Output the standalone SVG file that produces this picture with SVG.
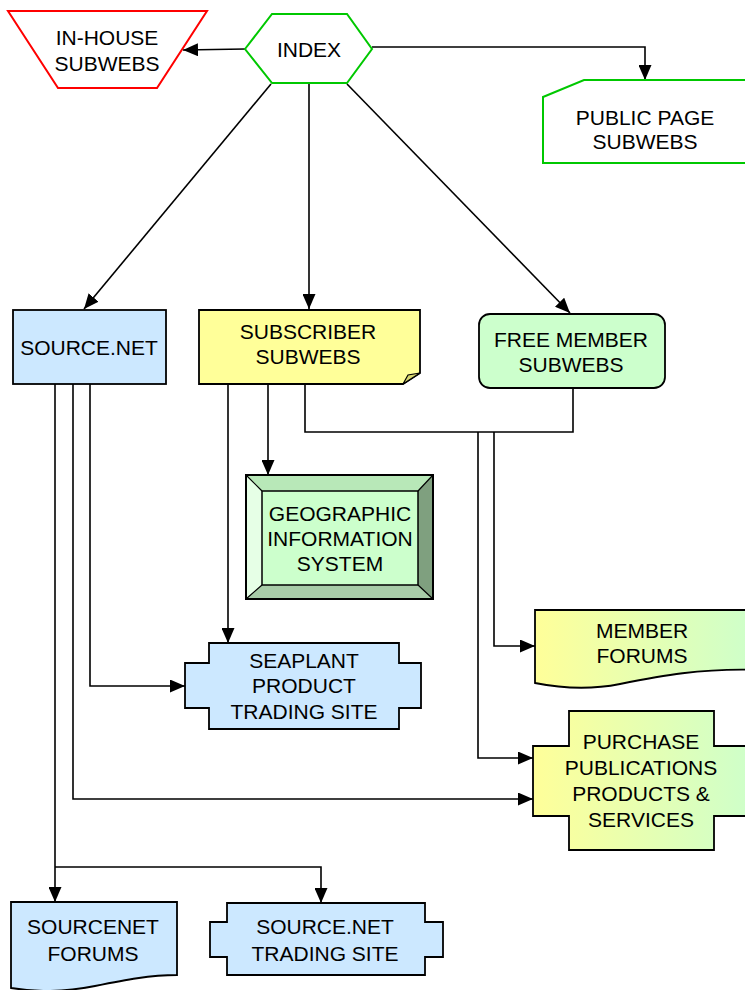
<svg xmlns="http://www.w3.org/2000/svg" width="745" height="990" viewBox="0 0 745 990">
  <defs>
    <marker id="arrow" markerUnits="userSpaceOnUse" markerWidth="15" markerHeight="13" viewBox="0 0 15 13" refX="15" refY="6.5" orient="auto">
      <path d="M0,0 L15,6.5 L0,13 Z" fill="#000"/>
    </marker>
    <linearGradient id="yg" x1="0" y1="0" x2="1" y2="0">
      <stop offset="0" stop-color="#ffff99"/>
      <stop offset="1" stop-color="#ccffcc"/>
    </linearGradient>
  </defs>
  <style>
    text { font-family: "Liberation Sans", Arial, sans-serif; font-size: 21px; fill: #000; text-anchor: middle; }
    .blue { fill: #cce8ff; stroke: #000; stroke-width: 1.8; }
    .yel { fill: #ffff99; stroke: #000; stroke-width: 1.8; }
    .grn { fill: #ccffcc; stroke: #000; stroke-width: 1.8; }
    .grad { fill: url(#yg); stroke: #000; stroke-width: 1.8; }
    .conn { fill: none; stroke: #000; stroke-width: 1.6; }
  </style>

  <g id="connectors">
    <line class="conn" x1="245" y1="49" x2="183" y2="50" marker-end="url(#arrow)"/>
    <polyline class="conn" points="372,47 645,47 645,80" marker-end="url(#arrow)"/>
    <line class="conn" x1="271" y1="84" x2="84" y2="309" marker-end="url(#arrow)"/>
    <line class="conn" x1="309" y1="84" x2="309" y2="309" marker-end="url(#arrow)"/>
    <line class="conn" x1="347" y1="84" x2="570" y2="313" marker-end="url(#arrow)"/>
    <line class="conn" x1="268" y1="384" x2="268" y2="475" marker-end="url(#arrow)"/>
    <line class="conn" x1="228" y1="384" x2="228" y2="643" marker-end="url(#arrow)"/>
    <polyline class="conn" points="305,384 305,432 573,432 573,388"/>
    <polyline class="conn" points="494,432 494,646 535,646" marker-end="url(#arrow)"/>
    <polyline class="conn" points="478,432 478,758 533,758" marker-end="url(#arrow)"/>
    <polyline class="conn" points="90,384 90,686 185,686" marker-end="url(#arrow)"/>
    <polyline class="conn" points="73,384 73,799 533,799" marker-end="url(#arrow)"/>
    <line class="conn" x1="55" y1="384" x2="55" y2="902" marker-end="url(#arrow)"/>
    <polyline class="conn" points="55,867 321,867 321,903" marker-end="url(#arrow)"/>
  </g>

  <g id="in-house">
    <polygon points="8,11 207,11 157,88 58,88" fill="#fff" stroke="#ff0000" stroke-width="2"/>
    <text x="107" y="45">IN-HOUSE</text>
    <text x="107" y="71">SUBWEBS</text>
  </g>

  <g id="index">
    <polygon points="245,49 272,14 347,14 372,49 347,83 272,83" fill="#fff" stroke="#00c800" stroke-width="2"/>
    <text x="309" y="57">INDEX</text>
  </g>

  <g id="public-page">
    <polygon points="543,97 584,80 760,80 760,163 543,163" fill="#fff" stroke="#00c800" stroke-width="2"/>
    <text x="645" y="125">PUBLIC PAGE</text>
    <text x="645" y="149">SUBWEBS</text>
  </g>

  <g id="source-net">
    <rect class="blue" x="13" y="310" width="153" height="74"/>
    <text x="89" y="355">SOURCE.NET</text>
  </g>

  <g id="subscriber">
    <polygon class="yel" points="199,310 420,310 420,373 403,384 199,384"/>
    <polygon points="420,373 403,384 408,375" fill="#d8d870" stroke="#000" stroke-width="1.2"/>
    <text x="308" y="339">SUBSCRIBER</text>
    <text x="308" y="364">SUBWEBS</text>
  </g>

  <g id="free-member">
    <rect class="grn" x="479" y="314" width="186" height="74" rx="11"/>
    <text x="571" y="347">FREE MEMBER</text>
    <text x="571" y="372">SUBWEBS</text>
  </g>

  <g id="gis">
    <rect x="246" y="475" width="187" height="124" fill="#ccffcc"/>
    <polygon points="246,475 262,491 262,585 246,599" fill="#e6ffe6"/>
    <polygon points="246,475 433,475 418,491 262,491" fill="#b8e8b8"/>
    <polygon points="433,475 433,599 418,585 418,491" fill="#7fa07f"/>
    <polygon points="246,599 262,585 418,585 433,599" fill="#a8cca8"/>
    <rect x="246" y="475" width="187" height="124" fill="none" stroke="#000" stroke-width="2"/>
    <rect x="262" y="491" width="156" height="94" fill="none" stroke="#000" stroke-width="1.5"/>
    <path d="M246,475 L262,491 M433,475 L418,491 M433,599 L418,585 M246,599 L262,585" stroke="#000" stroke-width="1.2"/>
    <text x="340" y="521">GEOGRAPHIC</text>
    <text x="340" y="546">INFORMATION</text>
    <text x="340" y="571">SYSTEM</text>
  </g>

  <g id="seaplant">
    <polygon class="blue" points="209,643 399,643 399,663 421,663 421,708 399,708 399,729 209,729 209,708 185,708 185,663 209,663"/>
    <text x="304" y="668">SEAPLANT</text>
    <text x="304" y="693">PRODUCT</text>
    <text x="304" y="719">TRADING SITE</text>
  </g>

  <g id="member-forums">
    <path class="grad" d="M535,610 L760,610 L760,670 C700,668 660,676 620,684 C590,690 560,688 535,683 Z"/>
    <text x="642" y="638">MEMBER</text>
    <text x="642" y="663">FORUMS</text>
  </g>

  <g id="purchase">
    <polygon class="grad" points="569,711 714,711 714,746 760,746 760,816 714,816 714,850 569,850 569,816 533,816 533,746 569,746"/>
    <text x="641" y="749">PURCHASE</text>
    <text x="641" y="775">PUBLICATIONS</text>
    <text x="641" y="801">PRODUCTS &amp;</text>
    <text x="641" y="827">SERVICES</text>
  </g>

  <g id="sourcenet-forums">
    <path class="blue" d="M11,902 L177,902 L177,975 C150,975 125,980 95,986 C60,993 35,992 11,988 Z"/>
    <text x="93" y="934">SOURCENET</text>
    <text x="93" y="961">FORUMS</text>
  </g>

  <g id="source-net-trading">
    <polygon class="blue" points="227,903 425,903 425,922 443,922 443,957 425,957 425,975 227,975 227,957 210,957 210,922 227,922"/>
    <text x="325" y="934">SOURCE.NET</text>
    <text x="325" y="961">TRADING SITE</text>
  </g>
</svg>
